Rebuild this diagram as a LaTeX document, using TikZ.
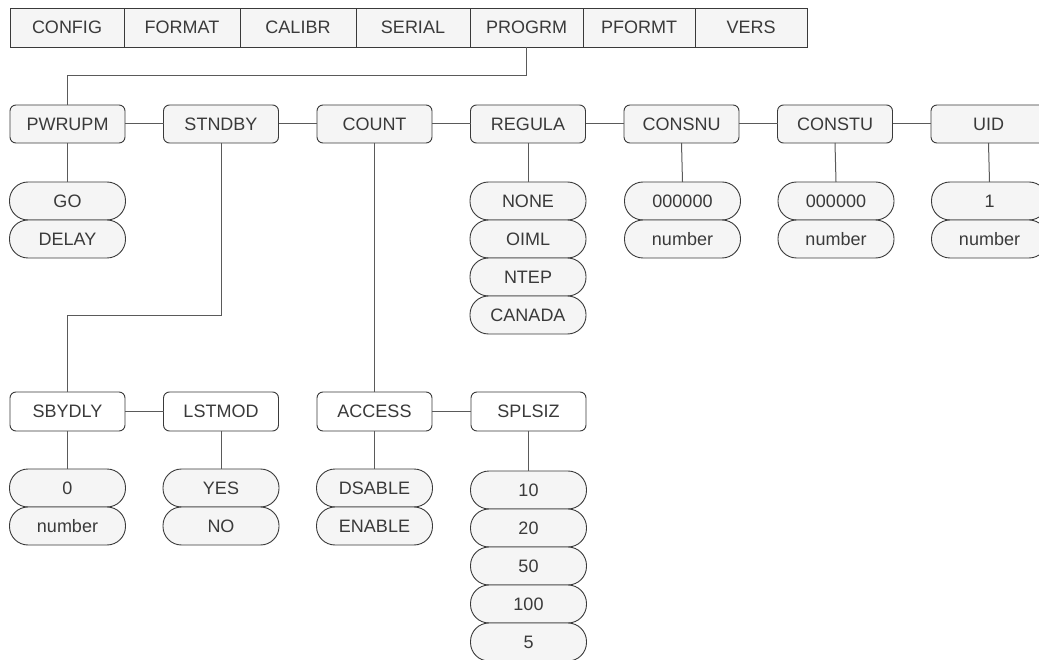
\documentclass[tikz,border=0pt]{standalone}
\usepackage{fontspec}
\setmainfont{Liberation Sans}
\definecolor{fillg}{HTML}{F5F5F5}
\definecolor{edge}{HTML}{3A3A3A}
\definecolor{wire}{HTML}{5A5A5A}
\definecolor{txt}{HTML}{3A3A3A}
\tikzset{
  base/.style={draw=edge, line width=0.9pt, text=txt, inner sep=0pt, outer sep=0pt,
    font=\fontsize{18}{18}\selectfont, anchor=north west},
  tab/.style={base, fill=fillg, minimum height=39pt},
  menu/.style={base, fill=fillg, rounded corners=6pt, minimum width=115pt, minimum height=38pt},
  menu2/.style={base, fill=white, rounded corners=6pt, minimum width=115pt, minimum height=39pt},
  pill/.style={base, fill=fillg, rounded corners=18.5pt, minimum width=116pt, minimum height=38pt},
  wire/.style={draw=wire, line width=1pt}
}
\begin{document}
\begin{tikzpicture}[x=1pt,y=-1pt]
\clip (0,0) rectangle (1039,660);
\fill[white] (0,0) rectangle (1039,660);
% top bar
\node[tab, minimum width=114pt] (config) at (10,8) {CONFIG};
\node[tab, minimum width=116pt] (format) at (124,8) {FORMAT};
\node[tab, minimum width=116pt] (calibr) at (240,8) {CALIBR};
\node[tab, minimum width=114pt] (serial) at (356,8) {SERIAL};
\node[tab, minimum width=113pt] (progrm) at (470,8) {PROGRM};
\node[tab, minimum width=112pt] (pformt) at (583,8) {PFORMT};
\node[tab, minimum width=112pt] (vers) at (695,8) {VERS};
% level 1
\node[menu] (pwrupm) at (10,105) {PWRUPM};
\node[menu] (stndby) at (163.5,105) {STNDBY};
\node[menu] (count) at (317,105) {COUNT};
\node[menu] (regula) at (470.5,105) {REGULA};
\node[menu] (consnu) at (624,105) {CONSNU};
\node[menu] (constu) at (777.5,105) {CONSTU};
\node[menu] (uid) at (931,105) {UID};
% level 1 pills
\node[pill] (go) at (9.5,182) {GO};
\node[pill] (delay) at (9.5,220) {DELAY};
\node[pill] (none) at (470,182) {NONE};
\node[pill] (oiml) at (470,220) {OIML};
\node[pill] (ntep) at (470,258) {NTEP};
\node[pill] (canada) at (470,296) {CANADA};
\node[pill] (cnz) at (624.5,182) {000000};
\node[pill] (cnn) at (624.5,220) {number};
\node[pill] (ctz) at (778,182) {000000};
\node[pill] (ctn) at (778,220) {number};
\node[pill] (uone) at (931.5,182) {1};
\node[pill] (unum) at (931.5,220) {number};
% level 2
\node[menu2] (sbydly) at (10,392) {SBYDLY};
\node[menu2] (lstmod) at (163.5,392) {LSTMOD};
\node[menu2] (access) at (317,392) {ACCESS};
\node[menu2] (splsiz) at (471,392) {SPLSIZ};
% level 2 pills
\node[pill] (szero) at (9.5,469) {0};
\node[pill] (snum) at (9.5,507) {number};
\node[pill] (yes) at (163,469) {YES};
\node[pill] (no) at (163,507) {NO};
\node[pill] (dsable) at (316.5,469) {DSABLE};
\node[pill] (enable) at (316.5,507) {ENABLE};
\node[pill] (s10) at (470.5,471) {10};
\node[pill] (s20) at (470.5,509) {20};
\node[pill] (s50) at (470.5,547) {50};
\node[pill] (s100) at (470.5,585) {100};
\node[pill] (s5) at (470.5,623) {5};
% connectors
\coordinate (ytop) at (0,76);
\coordinate (ymid) at (0,316);
\draw[wire] (progrm.south) -- (progrm.south |- ytop) -| (pwrupm.north);
\draw[wire] (pwrupm.east) -- (stndby.west);
\draw[wire] (stndby.east) -- (count.west);
\draw[wire] (count.east) -- (regula.west);
\draw[wire] (regula.east) -- (consnu.west);
\draw[wire] (consnu.east) -- (constu.west);
\draw[wire] (constu.east) -- (uid.west);
\draw[wire] (pwrupm.south) -- (go.north);
\draw[wire] (regula.south) -- (none.north);
\draw[wire] (consnu.south) -- (cnz.north);
\draw[wire] (constu.south) -- (ctz.north);
\draw[wire] (uid.south) -- (uone.north);
\draw[wire] (stndby.south) -- (stndby.south |- ymid) -| (sbydly.north);
\draw[wire] (count.south) -- (access.north);
\draw[wire] (sbydly.east) -- (lstmod.west);
\draw[wire] (access.east) -- (splsiz.west);
\draw[wire] (sbydly.south) -- (szero.north);
\draw[wire] (lstmod.south) -- (yes.north);
\draw[wire] (access.south) -- (dsable.north);
\draw[wire] (splsiz.south) -- (s10.north);
\end{tikzpicture}
\end{document}
